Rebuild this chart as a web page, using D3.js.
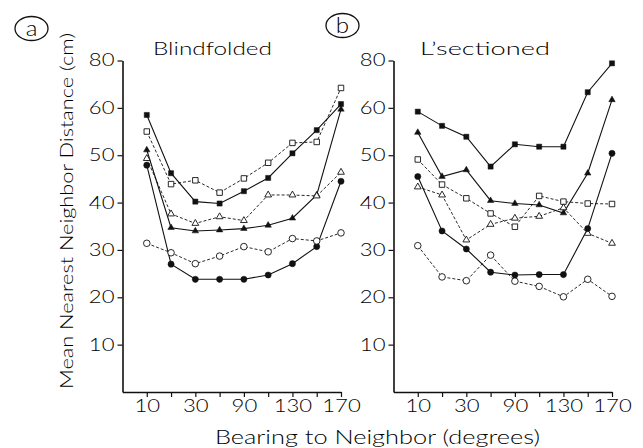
<!DOCTYPE html>
<html>
<head>
<meta charset="utf-8">
<script src="https://cdn.jsdelivr.net/npm/d3@7"></script>
<style>
  html, body { margin: 0; padding: 0; background: #fff; }
  svg { display: block; }
  text { font-family: Lato, "DejaVu Sans", sans-serif; font-weight: 300; fill: #000; }
</style>
</head>
<body>
<svg id="chart" width="643" height="448"></svg>
<script>
// Bearing classes (degrees) and axis labelling
const bearings = [10, 30, 50, 70, 90, 110, 130, 150, 170];
const xTickLabels = ["10", "", "30", "", "90", "", "130", "", "170"];
const yTickValues = [10, 20, 30, 40, 50, 60, 70];
const yTickLabels = ["10", "20", "30", "40", "50", "60", "80"];

// Panel a: blindfolded fish, mean nearest-neighbour distance (cm)
const blindFilledSquare   = [58.5, 46.2, 40.2, 39.8, 42.4, 45.2, 50.4, 55.3, 60.8];
const blindOpenSquare     = [55.0, 43.9, 44.7, 42.1, 45.1, 48.4, 52.6, 52.8, 64.2];
const blindFilledTriangle = [51.1, 34.7, 34.0, 34.2, 34.5, 35.2, 36.7, 41.6, 59.7];
const blindOpenTriangle   = [49.3, 37.6, 35.6, 37.0, 36.2, 41.6, 41.6, 41.4, 46.4];
const blindFilledCircle   = [47.9, 27.0, 23.8, 23.8, 23.8, 24.7, 27.1, 30.7, 44.5];
const blindOpenCircle     = [31.4, 29.4, 27.1, 28.7, 30.7, 29.6, 32.4, 31.9, 33.6];

// Panel b: lateral-line sectioned fish
const lsecFilledSquare   = [59.2, 56.2, 53.9, 47.6, 52.3, 51.8, 51.8, 63.3, 69.4];
const lsecOpenSquare     = [49.1, 43.8, 40.9, 37.7, 34.9, 41.4, 40.2, 39.8, 39.7];
const lsecFilledTriangle = [54.8, 45.5, 46.9, 40.4, 39.8, 39.5, 37.8, 46.2, 61.7];
const lsecOpenTriangle   = [43.3, 41.6, 32.1, 35.4, 36.7, 37.1, 38.9, 33.5, 31.4];
const lsecFilledCircle   = [45.5, 34.0, 30.2, 25.3, 24.7, 24.8, 24.8, 34.5, 50.4];
const lsecOpenCircle     = [30.9, 24.3, 23.5, 28.9, 23.4, 22.3, 20.1, 23.8, 20.2];

const svg = d3.select("#chart");

const y = d3.scaleLinear().domain([0, 70]).range([392, 60.5]);

// stretch a text element horizontally to a given factor (or absolute length)
function widen(sel, factor, length) {
  sel.each(function () {
    const w = this.getComputedTextLength();
    if (w > 0) {
      d3.select(this)
        .attr("textLength", length || w * factor)
        .attr("lengthAdjust", "spacingAndGlyphs");
    }
  });
}

// marker / line style per series kind
function seriesList(fs, os, ft, ot, fc, oc) {
  return [
    { values: fs, shape: d3.symbolSquare,   size: 26, filled: true,  dashed: false },
    { values: os, shape: d3.symbolSquare,   size: 30, filled: false, dashed: true },
    { values: ft, shape: d3.symbolTriangle, size: 18, filled: true,  dashed: false },
    { values: ot, shape: d3.symbolTriangle, size: 20, filled: false, dashed: true },
    { values: fc, shape: d3.symbolCircle,   size: 30, filled: true,  dashed: false },
    { values: oc, shape: d3.symbolCircle,   size: 34, filled: false, dashed: true }
  ];
}

function drawPanel(opts) {
  const x = d3.scaleLinear().domain([-10, 170]).range([opts.x0, opts.x0 + 218.5]);
  const g = svg.append("g");

  // y axis
  const yAxis = d3.axisLeft(y)
    .tickValues(yTickValues)
    .tickFormat((d, i) => yTickLabels[i])
    .tickSize(5).tickPadding(3).tickSizeOuter(0);
  const ya = g.append("g").attr("transform", `translate(${opts.x0},0)`).call(yAxis);
  // x axis
  const xAxis = d3.axisBottom(x)
    .tickValues(bearings)
    .tickFormat((d, i) => xTickLabels[i])
    .tickSize(5).tickPadding(3).tickSizeOuter(0);
  const xa = g.append("g").attr("transform", `translate(0,${y(0)})`).call(xAxis);

  [ya, xa].forEach(a => {
    a.select(".domain").attr("stroke", "#111").attr("stroke-width", 1.6);
    a.selectAll(".tick line").attr("stroke", "#111").attr("stroke-width", 1.2);
    a.selectAll(".tick text").attr("font-size", 17).attr("fill", "#000")
      .attr("font-family", "Lato, 'DejaVu Sans', sans-serif").attr("font-weight", 300);
    widen(a.selectAll(".tick text"), 1.3);
  });

  const line = d3.line().x((d, i) => x(bearings[i])).y(d => y(d));

  opts.series.forEach(s => {
    g.append("path")
      .datum(s.values)
      .attr("d", line)
      .attr("fill", "none")
      .attr("stroke", "#111")
      .attr("stroke-width", s.dashed ? 0.9 : 1.1)
      .attr("stroke-dasharray", s.dashed ? "3,2" : null);
  });
  opts.series.forEach(s => {
    g.selectAll(null)
      .data(s.values)
      .join("path")
      .attr("transform", (d, i) => `translate(${x(bearings[i])},${y(d)})`)
      .attr("d", d3.symbol().type(s.shape).size(s.size))
      .attr("fill", s.filled ? "#111" : "#fff")
      .attr("stroke", "#111")
      .attr("stroke-width", s.filled ? 0.5 : 0.9);
  });

  // panel title
  const t = g.append("text")
    .attr("x", opts.titleX).attr("y", 55)
    .attr("text-anchor", "middle")
    .attr("font-size", 18)
    .text(opts.title);
  widen(t, 1, opts.titleWidth);

  // circled panel letter
  g.append("ellipse")
    .attr("cx", opts.letterX).attr("cy", opts.letterY)
    .attr("rx", 16.5).attr("ry", 12)
    .attr("fill", "none").attr("stroke", "#111").attr("stroke-width", 1.3);
  const l = g.append("text")
    .attr("x", opts.letterX).attr("y", opts.letterY + 7)
    .attr("text-anchor", "middle")
    .attr("font-size", 21)
    .attr("font-weight", 400)
    .text(opts.letter);
  widen(l, 1.15);
}

drawPanel({
  x0: 122.5, title: "Blindfolded", titleX: 212.5, titleWidth: 119,
  letter: "a", letterX: 31.5, letterY: 28.5,
  series: seriesList(blindFilledSquare, blindOpenSquare, blindFilledTriangle,
                     blindOpenTriangle, blindFilledCircle, blindOpenCircle)
});
drawPanel({
  x0: 393.5, title: "L\u2019sectioned", titleX: 485, titleWidth: 130,
  letter: "b", letterX: 342.5, letterY: 25.5,
  series: seriesList(lsecFilledSquare, lsecOpenSquare, lsecFilledTriangle,
                     lsecOpenTriangle, lsecFilledCircle, lsecOpenCircle)
});

// axis titles
const yTitle = svg.append("text")
  .attr("transform", "translate(73,211) rotate(-90)")
  .attr("text-anchor", "middle")
  .attr("font-size", 18)
  .text("Mean Nearest Neighbor Distance (cm)");
widen(yTitle, 1, 356);

const xTitle = svg.append("text")
  .attr("x", 377.5).attr("y", 444)
  .attr("text-anchor", "middle")
  .attr("font-size", 19)
  .text("Bearing to Neighbor (degrees)");
widen(xTitle, 1, 325);
</script>
</body>
</html>
